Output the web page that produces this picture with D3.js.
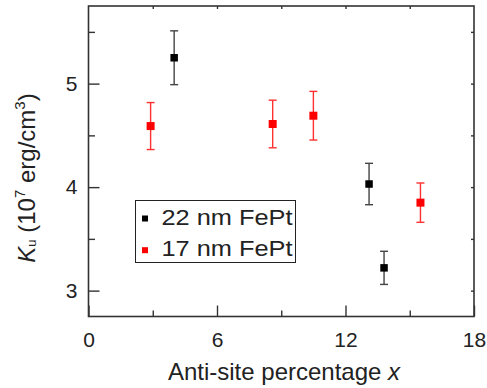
<!DOCTYPE html>
<html>
<head>
<meta charset="utf-8">
<script src="https://cdn.jsdelivr.net/npm/d3@7"></script>
<style>
  body { margin: 0; background: #fff; }
  svg { display: block; font-family: "Liberation Sans", Arial, sans-serif; }
</style>
</head>
<body>
<svg width="487" height="388"></svg>
<script>
// data
const x22 = [4.0, 13.1, 13.8];
const k22 = [5.25, 4.03, 3.22];
const err22 = [0.26, 0.20, 0.16];

const x17 = [2.9, 8.6, 10.5, 15.5];
const k17 = [4.59, 4.61, 4.69, 3.85];
const err17 = [0.227, 0.23, 0.235, 0.19];

const xMajor = [0, 6, 12, 18];
const xMinor = [3, 9, 15];
const yMajor = [3, 4, 5];
const yMinor = [3.5, 4.5, 5.5];

const legendLabels = ["22 nm FePt", "17 nm FePt"];

const svg = d3.select("svg");

const area = { left: 88.5, right: 474, top: 6, bottom: 316.5 };

const scX = d3.scaleLinear().domain([0, 18]).range([area.left, area.right]);
const scY = d3.scaleLinear().domain([2.75, 5.75]).range([area.bottom, area.top]);

function drawAxes() {
    const axisColor = "#333";
    const fmt = d3.format("d");

    // bottom, major with labels
    svg.append("g")
        .attr("transform", `translate(0, ${area.bottom})`)
        .call(d3.axisBottom(scX).tickValues(xMajor).tickFormat(fmt)
            .tickSizeInner(-11).tickSizeOuter(0).tickPadding(15.5));
    // bottom, minor
    svg.append("g")
        .attr("transform", `translate(0, ${area.bottom})`)
        .call(d3.axisBottom(scX).tickValues(xMinor).tickSizeInner(-6).tickSizeOuter(0).tickFormat(""));

    // left, major with labels
    svg.append("g")
        .attr("transform", `translate(${area.left}, 0)`)
        .call(d3.axisLeft(scY).tickValues(yMajor).tickFormat(fmt)
            .tickSizeInner(-11).tickSizeOuter(0).tickPadding(11));
    svg.append("g")
        .attr("transform", `translate(${area.left}, 0)`)
        .call(d3.axisLeft(scY).tickValues(yMinor).tickSizeInner(-6.5).tickSizeOuter(0).tickFormat(""));

    // top and right: small ticks, no labels
    svg.append("g")
        .attr("transform", `translate(0, ${area.top})`)
        .call(d3.axisTop(scX).tickValues(xMinor.concat([6, 12])).tickSizeInner(-3).tickSizeOuter(0).tickFormat(""));
    svg.append("g")
        .attr("transform", `translate(${area.right}, 0)`)
        .call(d3.axisRight(scY).tickValues(yMajor.concat(yMinor)).tickSizeInner(-3).tickSizeOuter(0).tickFormat(""));

    svg.selectAll(".domain").remove();
    svg.selectAll(".tick line").attr("stroke", axisColor).attr("stroke-width", 1.4);
    svg.selectAll(".tick text")
        .attr("font-family", "Liberation Sans, Arial, sans-serif")
        .attr("font-size", 21)
        .attr("fill", "#222");

    // frame
    svg.append("rect")
        .attr("x", area.left)
        .attr("y", area.top)
        .attr("width", area.right - area.left)
        .attr("height", area.bottom - area.top)
        .attr("fill", "none")
        .attr("stroke", axisColor)
        .attr("stroke-width", 1.6);
}

function drawSeries(xs, ys, errs, color, barColor, size) {
    const pts = xs.map((x, i) => ({ x: x, y: ys[i], e: errs[i] }));
    const g = svg.append("g");

    g.selectAll("line.bar")
        .data(pts)
        .enter()
        .append("line")
        .attr("class", "bar")
        .attr("x1", d => scX(d.x))
        .attr("x2", d => scX(d.x))
        .attr("y1", d => scY(d.y - d.e))
        .attr("y2", d => scY(d.y + d.e))
        .attr("stroke", barColor)
        .attr("stroke-width", 1.4);

    ["lo", "hi"].forEach(side => {
        g.selectAll("line.cap" + side)
            .data(pts)
            .enter()
            .append("line")
            .attr("class", "cap" + side)
            .attr("x1", d => scX(d.x) - 4)
            .attr("x2", d => scX(d.x) + 4)
            .attr("y1", d => scY(side === "lo" ? d.y - d.e : d.y + d.e))
            .attr("y2", d => scY(side === "lo" ? d.y - d.e : d.y + d.e))
            .attr("stroke", barColor)
            .attr("stroke-width", 1.4);
    });

    g.selectAll("rect")
        .data(pts)
        .enter()
        .append("rect")
        .attr("x", d => scX(d.x) - size / 2)
        .attr("y", d => scY(d.y) - size / 2)
        .attr("width", size)
        .attr("height", size)
        .attr("fill", color);
}

function drawLegend() {
    const g = svg.append("g");
    g.append("rect")
        .attr("x", 135.5).attr("y", 200.5)
        .attr("width", 160).attr("height", 62)
        .attr("fill", "#fff")
        .attr("stroke", "#222")
        .attr("stroke-width", 1);

    const colors = ["#000", "#ff0000"];
    legendLabels.forEach((label, i) => {
        const base = 224.5 + i * 31.7;
        g.append("rect")
            .attr("x", 142).attr("y", base - 9)
            .attr("width", 6).attr("height", 6)
            .attr("fill", colors[i]);
        g.append("text")
            .attr("x", 161.5).attr("y", base)
            .attr("font-size", 22)
            .attr("fill", "#222")
            .attr("textLength", 131)
            .attr("lengthAdjust", "spacingAndGlyphs")
            .text(label);
    });
}

function drawTitles() {
    const xt = svg.append("text")
        .attr("x", 284).attr("y", 380)
        .attr("text-anchor", "middle")
        .attr("font-size", 24)
        .attr("fill", "#222");
    xt.append("tspan").text("Anti-site percentage ");
    xt.append("tspan").attr("font-style", "italic").text("x");

    const yt = svg.append("text")
        .attr("transform", "translate(35, 178) rotate(-90)")
        .attr("text-anchor", "middle")
        .attr("font-size", 24)
        .attr("fill", "#222");
    yt.append("tspan").attr("font-style", "italic").text("K");
    yt.append("tspan").attr("font-size", 13).attr("dy", 1).text("u");
    yt.append("tspan").attr("dy", -1).text(" (10");
    yt.append("tspan").attr("font-size", 15).attr("dy", -10).text("7");
    yt.append("tspan").attr("dy", 10).text(" erg/cm");
    yt.append("tspan").attr("font-size", 15).attr("dy", -10).text("3");
    yt.append("tspan").attr("dy", 10).text(")");
}

drawAxes();
drawSeries(x17, k17, err17, "#ff0000", "#ff3030", 8);
drawSeries(x22, k22, err22, "#000", "#444", 7.5);
drawLegend();
drawTitles();
</script>
</body>
</html>
